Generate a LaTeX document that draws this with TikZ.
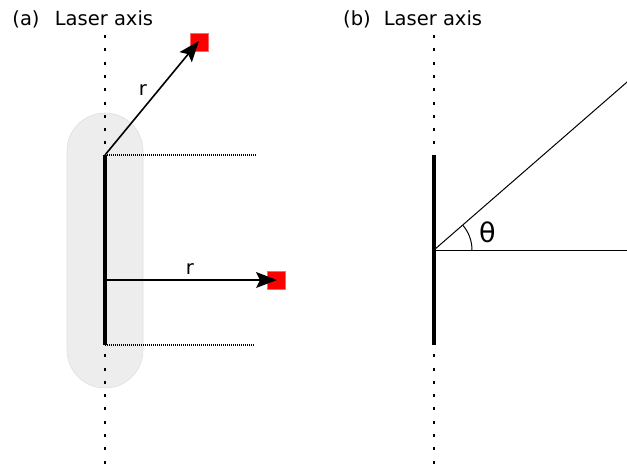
\documentclass[tikz,border=0pt]{standalone}
\usepackage{fontspec}
\setmainfont{DejaVu Sans}
\usetikzlibrary{calc}
\tikzset{
 axisline/.style={line width=2pt, dash pattern=on 3pt off 10.3pt},
 guide/.style={line width=1.2pt, dash pattern=on 1pt off 1pt, black},
 bar/.style={line width=3.5pt},
 target/.style={fill=red, draw=red!60, line width=0.5pt, minimum size=18pt, inner sep=0pt},
 rayline/.style={line width=1.6pt, shorten >=15pt},
 thin line/.style={line width=1pt},
 lbl/.style={inner sep=0pt, anchor=base}
}
% arrowhead: #1 = tip, #2 = source
\newcommand{\myhead}[2]{%
  \fill ($(#1)!21pt!(#2)$) coordinate (hb)
        ($(hb)!8pt!90:(#1)$) -- (#1) -- ($(hb)!8pt!-90:(#1)$) -- ($(#1)!17pt!(#2)$) -- cycle;}
\begin{document}
\begin{tikzpicture}[x=1pt,y=-1pt, font=\fontsize{19.5}{23}\selectfont]
\useasboundingbox (0,0) rectangle (627,467);
\clip (0,0) rectangle (627,467);
% ---------- panel (a)
\draw[fill=black!7, draw=black!12, line width=0.6pt, rounded corners=38pt] (67,113) rectangle (143,388);
\draw[axisline] (105,35) -- (105,470);
\coordinate (a1) at (105,155);
\coordinate (a2) at (105,345);
\coordinate (ac) at (105,280);
\coordinate (g1) at (257,155);
\coordinate (g2) at (255,345);
\draw[bar] (a1) -- (a2);
\draw[guide] (a1) -- (g1);
\draw[guide] (a2) -- (g2);
\node[target] (t1) at (199,42) {};
\node[target] (t2) at (276,280) {};
\coordinate (p1) at (199,41);
\coordinate (p2) at (277,280);
\draw[rayline] (a1) -- (p1);
\myhead{p1}{a1}
\draw[rayline] (ac) -- (p2);
\myhead{p2}{ac}
\node[lbl] (r1) at (143,95) {r};
\node[lbl] (r2) at (190,274) {r};
\node[lbl] (la) at (26,25) {(a)};
\node[lbl] (axa) at (104,25) {Laser axis};
% ---------- panel (b)
\draw[axisline] (434,35) -- (434,470);
\coordinate (b1) at (434,155);
\coordinate (b2) at (434,345);
\coordinate (o) at (434,250);
\coordinate (hend) at (640,250);
\coordinate (dend) at (660,53.4);
\draw[bar] (b1) -- (b2);
\draw[thin line] (o) -- (hend);
\draw[thin line] (o) -- (dend);
\draw[thin line] (472,250) arc[start angle=0, end angle=41, radius=38pt];
\node[lbl, font=\fontsize{27}{30}\selectfont] (th) at (487.5,242) {θ};
\node[lbl] (lb) at (357,25) {(b)};
\node[lbl] (axb) at (433,25) {Laser axis};
\end{tikzpicture}
\end{document}
